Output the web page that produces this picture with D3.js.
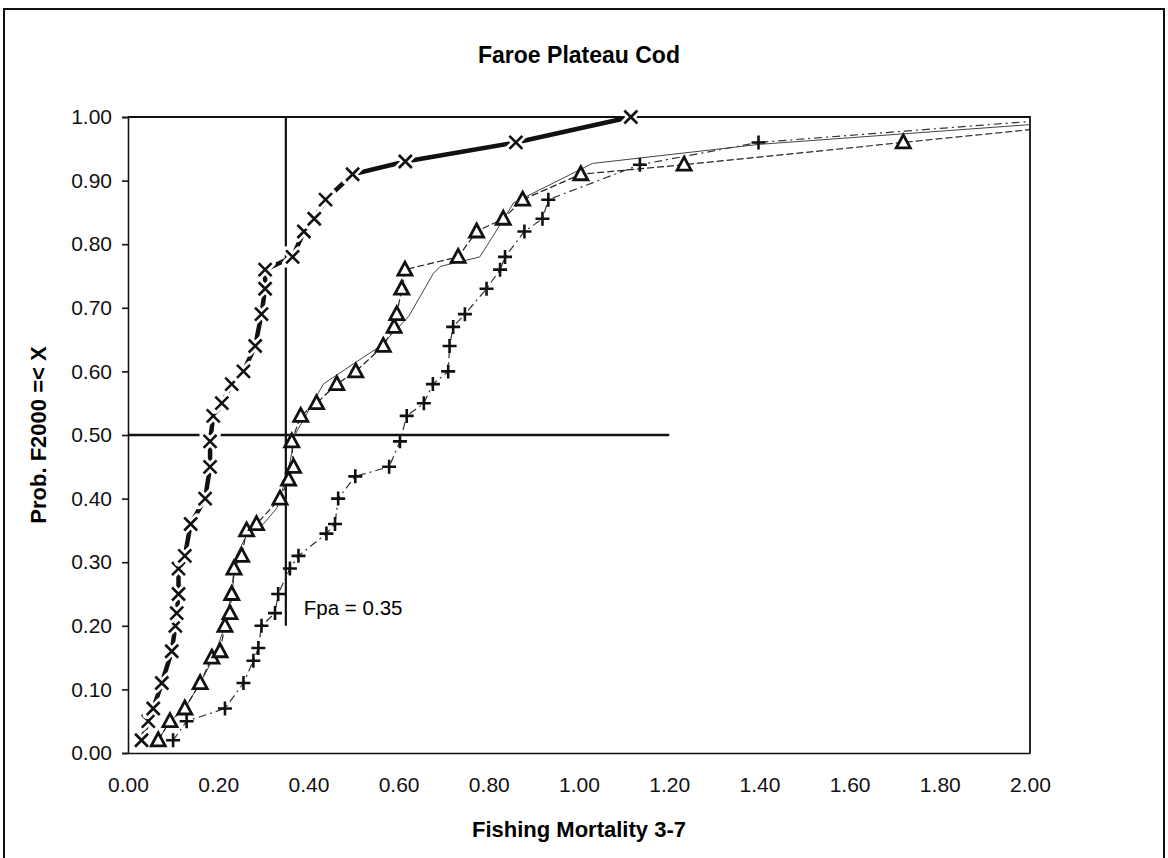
<!DOCTYPE html>
<html>
<head>
<meta charset="utf-8">
<script src="https://cdn.jsdelivr.net/npm/d3@7"></script>
<style>
  html, body { margin: 0; padding: 0; background: #fff; }
  svg { display: block; font-family: "Liberation Sans", Arial, Helvetica, sans-serif; }
  .tick text { font-size: 21px; fill: #111; }
  .axis path, .axis line { stroke: #111; stroke-width: 1.6px; }
</style>
</head>
<body>
<div id="chart"></div>
<script>
// fishing mortality (x) and cumulative probability (y)
const crossF = [0.030, 0.045, 0.056, 0.075, 0.097, 0.105, 0.108, 0.112, 0.112, 0.126, 0.139, 0.171, 0.182, 0.182, 0.189, 0.208, 0.230, 0.256, 0.282, 0.296, 0.304, 0.304, 0.365, 0.390, 0.413, 0.438, 0.498, 0.615, 0.860, 1.115];
const crossP = [0.02, 0.05, 0.07, 0.11, 0.16, 0.20, 0.22, 0.25, 0.29, 0.31, 0.36, 0.40, 0.45, 0.49, 0.53, 0.55, 0.58, 0.60, 0.64, 0.69, 0.73, 0.76, 0.78, 0.82, 0.84, 0.87, 0.91, 0.93, 0.96, 1.00];

const triF = [0.067, 0.093, 0.126, 0.160, 0.186, 0.204, 0.215, 0.226, 0.230, 0.235, 0.252, 0.263, 0.285, 0.337, 0.356, 0.367, 0.363, 0.383, 0.418, 0.463, 0.505, 0.566, 0.590, 0.596, 0.607, 0.614, 0.732, 0.773, 0.832, 0.875, 1.004, 1.233, 1.719, 2.00];
const triP = [0.02, 0.05, 0.07, 0.11, 0.15, 0.16, 0.20, 0.22, 0.25, 0.29, 0.31, 0.35, 0.36, 0.40, 0.43, 0.45, 0.49, 0.53, 0.55, 0.58, 0.60, 0.64, 0.67, 0.69, 0.73, 0.76, 0.78, 0.82, 0.84, 0.87, 0.91, 0.925, 0.96, 0.98];

const plusF = [0.100, 0.130, 0.215, 0.256, 0.278, 0.289, 0.296, 0.326, 0.333, 0.359, 0.378, 0.440, 0.459, 0.466, 0.504, 0.579, 0.603, 0.618, 0.656, 0.676, 0.710, 0.713, 0.721, 0.747, 0.795, 0.825, 0.836, 0.879, 0.919, 0.932, 1.135, 1.398, 2.00];
const plusP = [0.02, 0.05, 0.07, 0.11, 0.145, 0.165, 0.20, 0.22, 0.25, 0.29, 0.31, 0.345, 0.36, 0.40, 0.435, 0.45, 0.49, 0.53, 0.55, 0.58, 0.60, 0.64, 0.67, 0.69, 0.73, 0.76, 0.78, 0.82, 0.84, 0.87, 0.925, 0.96, 0.993];

// thin line without markers
const baseF = [0.067, 0.093, 0.126, 0.160, 0.190, 0.215, 0.232, 0.240, 0.265, 0.300, 0.330, 0.345, 0.360, 0.370, 0.433, 0.500, 0.560, 0.622, 0.677, 0.692, 0.780, 0.806, 0.855, 1.030, 1.400, 2.00];
const baseP = [0.02, 0.05, 0.07, 0.11, 0.15, 0.20, 0.26, 0.31, 0.345, 0.36, 0.385, 0.42, 0.46, 0.50, 0.58, 0.612, 0.64, 0.686, 0.754, 0.765, 0.78, 0.809, 0.865, 0.927, 0.957, 0.988];

const xTicks = [0, 0.2, 0.4, 0.6, 0.8, 1.0, 1.2, 1.4, 1.6, 1.8, 2.0];
const yTicks = [0, 0.1, 0.2, 0.3, 0.4, 0.5, 0.6, 0.7, 0.8, 0.9, 1.0];

const fpa = 0.35;
const fpaLine = [[fpa, 1.0], [fpa, 0.20]];
const medianLine = [[0, 0.5], [1.2, 0.5]];

const W = 1168, H = 858;
const margin = { top: 117, right: 138, bottom: 105, left: 128 };
const width = W - margin.left - margin.right;
const height = H - margin.top - margin.bottom;

const svg = d3.select("#chart").append("svg").attr("width", W).attr("height", H);

// outer frame
svg.append("rect")
  .attr("x", 4).attr("y", 9).attr("width", 1160).attr("height", 880)
  .attr("fill", "none").attr("stroke", "#111").attr("stroke-width", 2);

svg.append("text")
  .attr("x", margin.left + width / 2).attr("y", 63)
  .attr("text-anchor", "middle")
  .style("font-size", "23px").style("font-weight", "bold")
  .text("Faroe Plateau Cod");

const g = svg.append("g").attr("transform", `translate(${margin.left},${margin.top})`);

const x = d3.scaleLinear().domain([0, 2]).range([0, width]);
const y = d3.scaleLinear().domain([0, 1]).range([height, 0]);
const fmt = d3.format(".2f");

// plot border (top + right)
g.append("path")
  .attr("d", `M0,0H${width}V${height}`)
  .attr("fill", "none").attr("stroke", "#111").attr("stroke-width", 1.8);

g.append("g").attr("class", "axis")
  .call(d3.axisLeft(y).tickValues(yTicks).tickFormat(fmt).tickSize(6).tickPadding(10));

g.append("g").attr("class", "axis")
  .attr("transform", `translate(0,${height})`)
  .call(d3.axisBottom(x).tickValues(xTicks).tickFormat(fmt).tickSize(0).tickPadding(24));

g.selectAll(".axis .domain").attr("stroke-width", 2.2);

svg.append("text")
  .attr("transform", `translate(46,${margin.top + height / 2}) rotate(-90)`)
  .attr("text-anchor", "middle")
  .style("font-size", "22px").style("font-weight", "bold")
  .text("Prob. F2000 =< X");

svg.append("text")
  .attr("x", margin.left + width / 2).attr("y", 837)
  .attr("text-anchor", "middle")
  .style("font-size", "22px").style("font-weight", "bold")
  .text("Fishing Mortality 3-7");

const line = d3.line().x(d => x(d[0])).y(d => y(d[1]));

// reference lines
g.append("path").attr("d", line(fpaLine)).attr("stroke", "#111").attr("stroke-width", 2.2).attr("fill", "none");
g.append("path").attr("d", line(medianLine)).attr("stroke", "#111").attr("stroke-width", 2.4).attr("fill", "none");

g.append("text")
  .attr("x", x(fpa) + 18).attr("y", y(0.2) - 11)
  .style("font-size", "20.5px")
  .text("Fpa = " + fpa.toFixed(2));

const cross = d3.zip(crossF, crossP);
const tri = d3.zip(triF, triP);
const plus = d3.zip(plusF, plusP);
const base = d3.zip(baseF, baseP);

g.append("path").attr("d", line(base))
  .attr("fill", "none").attr("stroke", "#444").attr("stroke-width", 1);

g.append("path").attr("d", line(tri))
  .attr("fill", "none").attr("stroke", "#222").attr("stroke-width", 1.2)
  .attr("stroke-dasharray", "7,3");

g.append("path").attr("d", line(plus))
  .attr("fill", "none").attr("stroke", "#333").attr("stroke-width", 1.2)
  .attr("stroke-dasharray", "8,4,2,4");

g.append("path").attr("d", line(cross))
  .attr("fill", "none").attr("stroke", "#111").attr("stroke-width", 4.5);

// markers
const xPath = "M-6.5,-6.5L6.5,6.5M-6.5,6.5L6.5,-6.5";
const plusPath = "M-7,0H7M0,-7V7";
const triPath = "M0,-7.5L7,5.5L-7,5.5Z";

const crossMarks = g.append("g").selectAll("g").data(cross).join("g")
  .attr("transform", d => `translate(${x(d[0])},${y(d[1])})`);
crossMarks.append("path").attr("d", xPath).attr("stroke", "#fff").attr("stroke-width", 8).attr("stroke-linecap", "round");
crossMarks.append("path").attr("d", xPath).attr("stroke", "#111").attr("stroke-width", 2.6);

g.append("g").selectAll("path").data(tri.slice(0, -1)).join("path")
  .attr("transform", d => `translate(${x(d[0])},${y(d[1])})`)
  .attr("d", triPath)
  .attr("fill", "#fff").attr("stroke", "#111").attr("stroke-width", 2.8);

g.append("g").selectAll("path").data(plus.slice(0, -1)).join("path")
  .attr("transform", d => `translate(${x(d[0])},${y(d[1])})`)
  .attr("d", plusPath)
  .attr("stroke", "#111").attr("stroke-width", 2.6);
</script>
</body>
</html>
